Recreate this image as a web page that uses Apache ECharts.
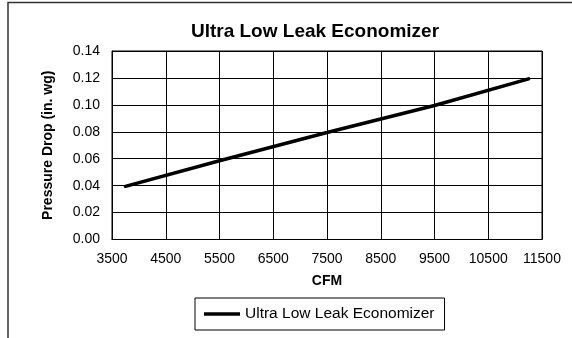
<!DOCTYPE html>
<html>
<head>
<meta charset="utf-8">
<script src="https://cdn.jsdelivr.net/npm/echarts@6/dist/echarts.min.js"></script>
<style>
  html, body { margin: 0; padding: 0; background: #fff; }
  #chart { width: 572px; height: 338px; }
</style>
</head>
<body>
<div id="chart"></div>
<script>
// Airflow (CFM) and pressure drop (in. wg) for the economizer
const cfm = [3750, 5500, 7500, 9500, 11250];
const pressureDrop = [0.0395, 0.0585, 0.0795, 0.0995, 0.1193];
const seriesName = 'Ultra Low Leak Economizer';
const chartTitle = 'Ultra Low Leak Economizer';
const xAxisName = 'CFM';
const yAxisName = 'Pressure Drop (in. wg)';

const FONT = 'Liberation Sans, Arial, Helvetica, sans-serif';
const chart = echarts.init(document.getElementById('chart'), null, { renderer: 'canvas' });

chart.setOption({
  backgroundColor: '#fff',
  animation: false,
  title: {
    text: chartTitle,
    left: 315,
    top: 22,
    padding: 0,
    textAlign: 'center',
    textStyle: { fontFamily: FONT, fontSize: 19, fontWeight: 'bold', color: '#000' }
  },
  graphic: [{
    type: 'polyline',
    shape: { points: [[8, 340], [8, 2.5], [575, 2.5]] },
    style: { stroke: '#333', lineWidth: 1.5, fill: null },
    silent: true
  }],
  legend: {
    data: [seriesName],
    left: 195,
    top: 298,
    padding: [8, 10, 8, 9],
    borderColor: '#000',
    borderWidth: 1,
    itemWidth: 36,
    itemHeight: 3.5,
    itemGap: 8,
    icon: 'rect',
    textStyle: { fontFamily: FONT, fontSize: 15.5, color: '#000' }
  },
  grid: { left: 112, right: 30, top: 51, bottom: 98.5, show: true, borderColor: '#000', borderWidth: 1 },
  xAxis: {
    type: 'value',
    min: 3500,
    max: 11500,
    interval: 1000,
    name: xAxisName,
    nameLocation: 'middle',
    nameGap: 35,
    nameTextStyle: { fontFamily: FONT, fontSize: 14, fontWeight: 'bold', color: '#000' },
    axisLine: { show: true, lineStyle: { color: '#000', width: 1 } },
    axisTick: { show: false },
    axisLabel: { fontFamily: FONT, fontSize: 14, color: '#000', margin: 13, formatter: v => String(v) },
    splitLine: { show: true, lineStyle: { color: '#000', width: 1 } }
  },
  yAxis: {
    type: 'value',
    min: 0,
    max: 0.14,
    interval: 0.02,
    name: yAxisName,
    nameLocation: 'middle',
    nameGap: 57,
    nameTextStyle: { fontFamily: FONT, fontSize: 14, fontWeight: 'bold', color: '#000' },
    axisLine: { show: true, lineStyle: { color: '#000', width: 1 } },
    axisTick: { show: false },
    axisLabel: {
      fontFamily: FONT, fontSize: 14, color: '#000', margin: 12,
      formatter: v => v.toFixed(2)
    },
    splitLine: { show: true, lineStyle: { color: '#000', width: 1 } }
  },
  series: [{
    name: seriesName,
    type: 'line',
    data: cfm.map((c, i) => [c, pressureDrop[i]]),
    showSymbol: false,
    smooth: false,
    lineStyle: { color: '#000', width: 3.5, cap: 'round' },
    itemStyle: { color: '#000' }
  }]
});
</script>
</body>
</html>
